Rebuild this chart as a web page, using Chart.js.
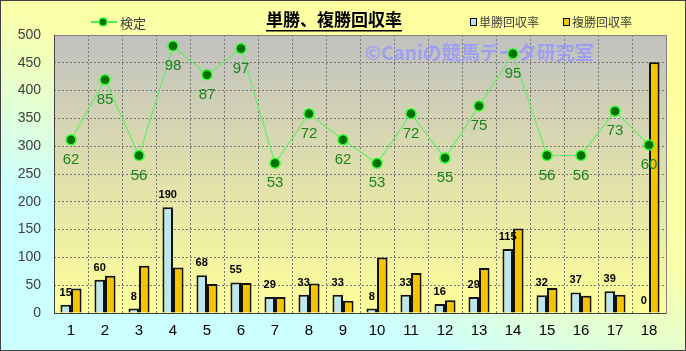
<!DOCTYPE html>
<html>
<head>
<meta charset="utf-8">
<script src="https://cdn.jsdelivr.net/npm/chart.js@4/dist/chart.umd.min.js"></script>
<style>
  html, body { margin: 0; padding: 0; background: #fff; }
  #wrap { position: relative; width: 684px; height: 349px; border: 1px solid #404040; }
  canvas { display: block; }
</style>
</head>
<body>
<div id="wrap"><canvas id="chart" width="684" height="349"></canvas></div>
<script>
// data
var races = ['1','2','3','4','5','6','7','8','9','10','11','12','13','14','15','16','17','18']
var tanshou = [15, 60, 8, 190, 68, 55, 29, 33, 33, 8, 33, 16, 29, 115, 32, 37, 39, 0]
var fukushou = [44, 67, 85, 82, 52, 54, 29, 53, 22, 100, 72, 23, 81, 152, 45, 31, 33, 451]
var kentei = [62, 85, 56, 98, 87, 97, 53, 72, 62, 53, 72, 55, 75, 95, 56, 56, 73, 60]
var yTicks = [0, 50, 100, 150, 200, 250, 300, 350, 400, 450, 500]

var JP = '"Noto Sans CJK JP", "DejaVu Sans", sans-serif'
var NUM = '"Liberation Sans", Arial, sans-serif'

// background + plot area gradient
var bgPlugin = {
    id: 'bg',
    beforeDraw: function(chart) {
        var ctx = chart.ctx, a = chart.chartArea
        var g = ctx.createLinearGradient(chart.width * 0.6, 0, chart.width * 0.4, chart.height)
        g.addColorStop(0, '#ffffa0')
        g.addColorStop(0.4, '#fbffa8')
        g.addColorStop(0.62, '#e4ffd0')
        g.addColorStop(0.85, '#ccffff')
        g.addColorStop(1, '#ccffff')
        ctx.save()
        ctx.fillStyle = g
        ctx.fillRect(0, 0, chart.width, chart.height)
        var g2 = ctx.createLinearGradient(0, a.top, 0, a.bottom)
        g2.addColorStop(0, '#c0c0c0')
        g2.addColorStop(1, '#ffff99')
        ctx.fillStyle = g2
        ctx.fillRect(a.left, a.top, a.right - a.left, a.bottom - a.top)
        ctx.restore()
    },
    beforeDatasetsDraw: function(chart) {
        var ctx = chart.ctx, a = chart.chartArea
        ctx.save()
        // plot border
        ctx.strokeStyle = '#808080'
        ctx.lineWidth = 1
        ctx.strokeRect(a.left + 0.5, a.top + 0.5, a.right - a.left, a.bottom - a.top)
        ctx.strokeStyle = '#404040'
        ctx.beginPath()
        ctx.moveTo(a.left + 0.5, a.top)
        ctx.lineTo(a.left + 0.5, a.bottom + 0.5)
        ctx.lineTo(a.right, a.bottom + 0.5)
        ctx.stroke()
        // watermark
        ctx.fillStyle = 'rgba(150,150,255,0.8)'
        ctx.font = 'bold 19px ' + JP
        ctx.textBaseline = 'middle'
        ctx.fillText('©Caniの競馬データ研究室', 364, 52)
        ctx.restore()
    }
}

// value labels, title and legend
var labelPlugin = {
    id: 'labels',
    afterDatasetsDraw: function(chart) {
        var ctx = chart.ctx
        ctx.save()
        ctx.textAlign = 'center'
        ctx.textBaseline = 'middle'
        ctx.font = 'bold 11px ' + NUM
        ctx.fillStyle = '#000'
        chart.getDatasetMeta(0).data.forEach(function(el, i) {
            ctx.fillText(String(tanshou[i]), el.x, el.y - 12)
        })
        ctx.font = '15px ' + NUM
        ctx.fillStyle = '#1a861a'
        chart.getDatasetMeta(2).data.forEach(function(el, i) {
            ctx.fillText(String(kentei[i]), el.x, el.y + 20)
        })

        // title
        ctx.fillStyle = '#000'
        ctx.font = 'bold 17px ' + JP
        ctx.fillText('単勝、複勝回収率', 333, 19)
        var w = ctx.measureText('単勝、複勝回収率').width
        ctx.fillRect(333 - w / 2, 29, w, 1.5)

        // legend
        ctx.textAlign = 'left'
        ctx.font = '13px ' + JP
        ctx.strokeStyle = '#55ee55'
        ctx.lineWidth = 2
        ctx.beginPath(); ctx.moveTo(90, 21); ctx.lineTo(116, 21); ctx.stroke()
        ctx.beginPath(); ctx.arc(102, 21, 4, 0, Math.PI * 2)
        ctx.fillStyle = '#007000'; ctx.fill()
        ctx.lineWidth = 1.5; ctx.strokeStyle = '#33ff33'; ctx.stroke()
        ctx.fillStyle = '#404040'
        ctx.fillText('検定', 119, 22)

        ctx.font = '12px ' + JP
        ctx.lineWidth = 1
        ctx.strokeStyle = '#000'
        ctx.fillStyle = '#b8e4ec'
        ctx.fillRect(469, 17, 6, 7); ctx.strokeRect(469.5, 17.5, 6, 7)
        ctx.fillStyle = '#404040'
        ctx.fillText('単勝回収率', 478, 21)
        ctx.fillStyle = '#f5c400'
        ctx.fillRect(562, 17, 6, 7); ctx.strokeRect(562.5, 17.5, 6, 7)
        ctx.fillStyle = '#404040'
        ctx.fillText('複勝回収率', 571, 21)
        ctx.restore()
    }
}

var ctx = document.getElementById('chart').getContext('2d')
var chart = new Chart(ctx, {
    type: 'bar',
    data: {
        labels: races,
        datasets: [{
            label: '単勝回収率',
            data: tanshou,
            backgroundColor: '#bde6ee',
            borderColor: '#111',
            borderWidth: 2,
            categoryPercentage: 0.62,
            barPercentage: 1.0,
            order: 2
        }, {
            label: '複勝回収率',
            data: fukushou,
            backgroundColor: '#f5c400',
            borderColor: '#111',
            borderWidth: 2,
            categoryPercentage: 0.62,
            barPercentage: 1.0,
            order: 2
        }, {
            type: 'line',
            label: '検定',
            data: kentei,
            yAxisID: 'y2',
            borderColor: '#66ee66',
            borderWidth: 1.2,
            pointRadius: 5,
            pointBackgroundColor: '#007000',
            pointBorderColor: '#33ff33',
            pointBorderWidth: 1.5,
            tension: 0,
            order: 1
        }]
    },
    options: {
        responsive: false,
        animation: false,
        layout: { padding: { left: 0, top: 34, right: 19, bottom: 0 } },
        plugins: {
            legend: { display: false },
            title: { display: false },
            tooltip: { enabled: false }
        },
        scales: {
            x: {
                grid: { color: '#777', lineWidth: 1, offset: true, drawTicks: false },
                border: { display: false, dash: [2, 2] },
                ticks: { color: '#000', font: { size: 15, family: NUM }, padding: 9, maxRotation: 0 },
                afterFit: function(s) { s.height = 37 }
            },
            y: {
                min: 0, max: 500,
                afterBuildTicks: function(s) { s.ticks = yTicks.map(function(v) { return { value: v } }) },
                grid: { color: '#777', drawTicks: false },
                border: { display: false, dash: [2, 2] },
                ticks: { color: '#404040', font: { size: 14, family: NUM }, padding: 13 },
                afterFit: function(s) { s.width = 53 }
            },
            y2: {
                display: false,
                min: -4.4, max: 102.2
            }
        }
    },
    plugins: [bgPlugin, labelPlugin]
})
</script>
</body>
</html>
